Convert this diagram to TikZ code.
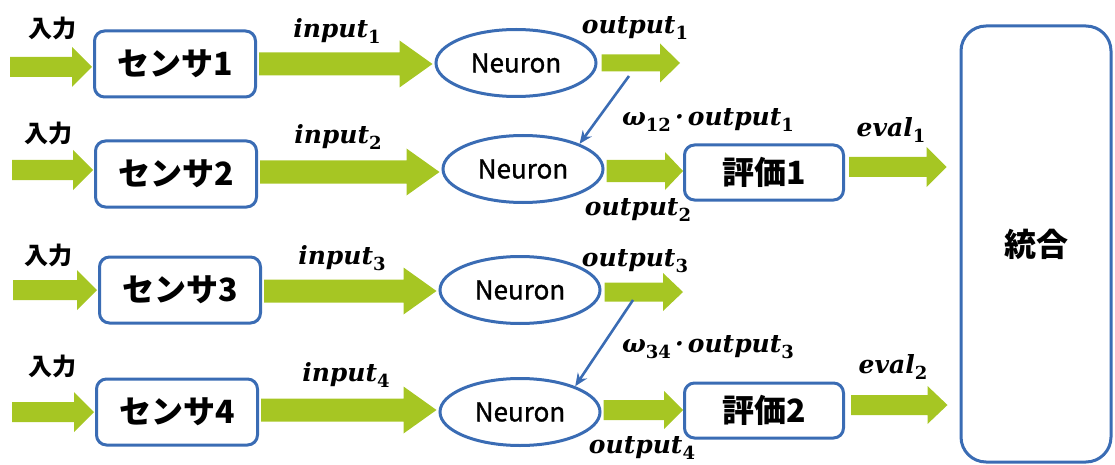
\documentclass[tikz,border=0pt]{standalone}
\usepackage{fontspec}
\newfontfamily\jp{Noto Sans CJK JP}
\newfontfamily\jpm[FakeBold=1.2]{Noto Sans CJK JP}
\newfontfamily\lab{DejaVu Serif}
\usetikzlibrary{shapes.geometric,calc,arrows.meta}
\definecolor{grn}{RGB}{166,198,35}
\definecolor{blu}{RGB}{58,108,180}
\newcommand\sbs[1]{\raisebox{-0.25em}{\upshape\fontsize{18}{20}\selectfont #1}}
\tikzset{
 box/.style={draw=blu,line width=3pt,rounded corners=10pt,fill=white,minimum width=161pt,minimum height=66pt,inner sep=0pt,font=\jp\bfseries\fontsize{32}{36}\selectfont},
 evbox/.style={box,minimum width=159pt,minimum height=55pt},
 neu/.style={ellipse,draw=blu,line width=3pt,minimum width=160pt,minimum height=67pt,inner sep=0pt,font=\jpm\fontsize{26}{28}\selectfont},
 lbl/.style={font=\lab\bfseries\itshape\fontsize{25}{28}\selectfont,inner sep=0pt},
 jlbl/.style={font=\jp\bfseries\fontsize{24}{28}\selectfont,inner sep=0pt},
 wline/.style={draw=blu,line width=2.6pt,-{Stealth[length=13pt,width=11pt]}},
}
% fat arrow: from, to, shaft half, head half, head length (pt); height taken from 'from'
\newcommand\fatarrow[5]{\fill[grn] let \p1=(#1), \p2=(#2) in
  (\x1,\y1+#3pt) -- (\x2-#5pt,\y1+#3pt) -- (\x2-#5pt,\y1+#4pt) -- (\x2,\y1)
  -- (\x2-#5pt,\y1-#4pt) -- (\x2-#5pt,\y1-#3pt) -- (\x1,\y1-#3pt) -- cycle;}
\begin{document}
\begin{tikzpicture}[x=1pt,y=-1pt]
\useasboundingbox (0,0) rectangle (1115,465);
% sensors
\node[box] (s1) at (175,64) {センサ1};
\node[box] (s2) at (176,174) {センサ2};
\node[box] (s3) at (180,290) {センサ3};
\node[box] (s4) at (177,412) {センサ4};
% neurons
\node[neu] (n1) at (516,63) {Neuron};
\node[neu] (n2) at (523,169) {Neuron};
\node[neu] (n3) at (520,290) {Neuron};
\node[neu] (n4) at (520,412) {Neuron};
% evaluation
\node[evbox] (e1) at (764,172.5) {評価1};
\node[evbox] (e2) at (764,410.5) {評価2};
\node[box,minimum width=150pt,minimum height=436pt,rounded corners=25pt] (t) at (1036,244) {統合};
% free ends
\coordinate (i1) at (10,67);
\coordinate (i2) at (12,170);
\coordinate (i3) at (13,290);
\coordinate (i4) at (12,412);
\coordinate (o1) at (680,63);
\coordinate (o3) at (683,292);
\coordinate (w1) at (629,76);
\coordinate (w3) at (633,300);
% input arrows
\fatarrow{i1}{$(s1.west)+(-1,0)$}{10}{20}{20}
\fatarrow{i2}{$(s2.west)+(-1,0)$}{10}{20}{20}
\fatarrow{i3}{$(s3.west)+(-1,0)$}{10}{20}{20}
\fatarrow{i4}{$(s4.west)+(-1,0)$}{10}{20}{20}
% sensor to neuron
\fatarrow{$(s1.east)+(2,0)$}{$(n1.west)+(-2,0)$}{11.5}{23.5}{33}
\fatarrow{$(s2.east)+(2,-2)$}{$(n2.west)+(-2,0)$}{11.5}{23.5}{33}
\fatarrow{$(s3.east)+(2,1)$}{$(n3.west)+(-2,0)$}{11.5}{23.5}{33}
\fatarrow{$(s4.east)+(2,-2)$}{$(n4.west)+(-2,0)$}{11.5}{23.5}{33}
% neuron outputs
\fatarrow{$(n1.east)+(4,0)$}{o1}{8.5}{19.5}{20}
\fatarrow{$(n3.east)+(3,2)$}{o3}{9.5}{19}{20}
\fatarrow{$(n2.east)+(2,2)$}{e1.west}{11}{19}{18}
\fatarrow{$(n4.east)+(2,-2)$}{e2.west}{10}{19}{19}
% eval arrows
\fatarrow{$(e1.east)+(4,-5.5)$}{$(t.west)+(-13,0)$}{10}{20}{20}
\fatarrow{$(e2.east)+(6,-5.5)$}{$(t.west)+(-12,0)$}{10}{19}{20}
% weight lines
\draw[wline] (w1) -- (n2.24);
\draw[wline] (w3) -- (n4.25);
% labels
\node[jlbl] at (52,28) {入力};
\node[jlbl] at (48,133) {入力};
\node[jlbl] at (48,255) {入力};
\node[jlbl] at (52,366) {入力};
\node[lbl] at (337,31) {input\sbs{1}};
\node[lbl] at (338,137) {input\sbs{2}};
\node[lbl] at (342,258) {input\sbs{3}};
\node[lbl] at (346,375) {input\sbs{4}};
\node[lbl] at (635,28) {output\sbs{1}};
\node[lbl] at (638,210) {output\sbs{2}};
\node[lbl] at (635,261) {output\sbs{3}};
\node[lbl] at (642,448) {output\sbs{4}};
\node[lbl] at (708,120) {ω\sbs{12}\,·\,output\sbs{1}};
\node[lbl] at (708,347) {ω\sbs{34}\,·\,output\sbs{3}};
\node[lbl] at (891,130) {eval\sbs{1}};
\node[lbl] at (893,367) {eval\sbs{2}};
\end{tikzpicture}
\end{document}
